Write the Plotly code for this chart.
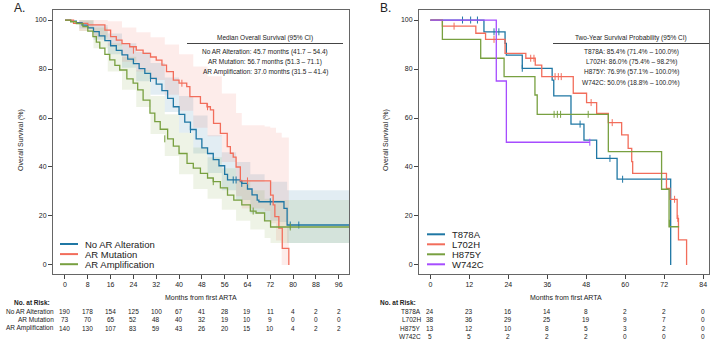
import plotly.graph_objects as go

# ---------------- Panel A data ----------------
noalt_t = [0, 2, 4, 6, 8, 10, 12, 14, 16, 18, 20, 22, 24, 26, 28, 30, 32, 34, 36, 38, 40, 42, 44, 46, 48, 50, 52, 54, 56, 57, 61.5, 62, 64, 65.6, 67.4, 68, 74.4, 76.8, 77.9, 100]
noalt_s = [100, 99.5, 98.9, 97.9, 96.8, 95.3, 93.5, 91.6, 89.5, 87.6, 85.8, 84, 82.2, 80.2, 78.2, 76.2, 73.8, 71.2, 68, 64.6, 61.5, 58.3, 55.3, 51.5, 47.8, 45.5, 43, 40.5, 37, 34.7, 34, 33.3, 31, 28.6, 26.5, 25.8, 25.8, 23.1, 16.3, 16.3]
noalt_cens_t = [30, 44, 59, 60, 62, 72, 79, 82]
noalt_cens_s = [76.2, 55.3, 34.7, 34.7, 33.3, 25.8, 16.3, 16.3]

mut_t = [0, 3, 8, 14, 16, 18, 20, 22.7, 25, 27.4, 30, 32, 34, 35.6, 38, 40, 42.7, 43.8, 47.5, 49.8, 51, 52.1, 54.5, 56.9, 58, 59, 60, 61.5, 70.9, 72.1, 73, 73.6, 75, 76.2, 78.5]
mut_s = [100, 98.6, 98, 95.9, 93.2, 91.8, 90.4, 89.1, 87.7, 86.4, 84.9, 83.6, 81.6, 78.9, 75.5, 74.2, 72.8, 68.7, 66, 64.6, 63.3, 57.8, 53.7, 48.3, 45.6, 44, 40, 34.3, 34.3, 28.5, 24.5, 19.7, 15, 6.8, 0]
mut_cens_t = [24, 41, 50, 64]
mut_cens_s = [87.7, 74.2, 64.6, 34.3]

amp_t = [0, 2, 4, 6.3, 8, 9.8, 11, 12.2, 14, 15.7, 17.5, 19.2, 21.7, 23.9, 25.5, 27.4, 29.8, 31.5, 33.4, 36, 38, 40, 42.8, 45, 47.5, 50, 52, 54.5, 57, 59.2, 62, 65, 67, 70, 72.1, 100]
amp_s = [100, 99.3, 98.5, 97.3, 95.5, 93.2, 91, 88.5, 86, 83.7, 81.5, 79.6, 76, 74.2, 71.5, 67.3, 62, 58.5, 55.4, 51.5, 48.5, 45.5, 41.5, 39.5, 37.4, 35.5, 34, 31.5, 28.5, 26.5, 24.5, 22, 21.2, 18, 15.5, 15.5]
amp_cens_t = [35, 52, 66, 79]
amp_cens_s = [51.5, 34, 22, 15.5]

# confidence bands
noalt_band_t = [0, 5, 10, 15, 20, 25, 30, 35, 40, 45, 50, 55, 60, 65, 70, 75, 77.9, 100]
noalt_lo = [100, 96.5, 92, 86, 80.5, 75, 69.5, 62.5, 54, 45.5, 37.5, 30.5, 26.5, 21, 18, 17.5, 9, 9]
noalt_hi = [100, 99.8, 98, 94.5, 90.5, 87, 82.5, 76.5, 69, 61, 53, 46, 42, 37, 34, 34, 30.5, 30.5]

mut_band_t = [0, 5, 10, 15, 20, 25, 30, 35, 40, 45, 50, 55, 60, 62, 70, 72, 74, 76, 78.5]
mut_lo = [100, 95.5, 93, 89.5, 83, 79, 75.5, 69.5, 63, 56, 52.5, 42, 28, 23, 22, 17, 10, 0, 0]
mut_hi = [100, 100, 100, 99.5, 97, 95, 93, 90, 86, 81, 77, 70, 62, 57, 56.5, 56, 54, 52, 52]

amp_band_t = [0, 5, 10, 15, 20, 25, 30, 35, 40, 45, 50, 55, 60, 65, 70, 72.1, 100]
amp_lo = [100, 95.5, 88.5, 79, 71.5, 64.5, 53.5, 44.5, 37, 31, 27, 22.5, 18, 14.5, 11, 9, 9]
amp_hi = [100, 100, 97, 90.5, 85, 79.5, 69, 61.5, 54, 48, 44, 39.5, 34.5, 30.5, 27, 26.5, 26.5]

a_ticks = [0, 8, 16, 24, 32, 40, 48, 56, 64, 72, 80, 88, 96]
a_groups = ["No AR Alteration", "AR Mutation", "AR Amplification"]
a_risk = [
    [190, 178, 154, 125, 100, 67, 41, 28, 19, 11, 4, 2, 2],
    [73, 70, 65, 52, 48, 40, 32, 19, 10, 9, 0, 0, 0],
    [140, 130, 107, 83, 59, 43, 26, 20, 15, 10, 4, 2, 2],
]
a_box_title = "Median Overall Survival (95% CI)"
a_box_lines = [
    "No AR Alteration: 45.7 months (41.7 \u2013 54.4)",
    "AR Mutation: 56.7 months (51.3 \u2013 71.1)",
    "AR Amplification: 37.0 months (31.5 \u2013 41.4)",
]

# ---------------- Panel B data ----------------
t878_t = [0, 16.5, 23, 23.4, 28.3, 37.5, 38, 43.3, 47.3, 51.2, 57.5, 74, 74]
t878_s = [100, 95.2, 90.5, 85.7, 80.3, 75.5, 69, 57.5, 51, 43.5, 35, 35, 0]
t878_cens_t = [9.9, 12.4, 14.5, 19.6, 21.1, 28.3, 46.1, 55.3, 59.2]
t878_cens_s = [100, 100, 100, 95.2, 95.2, 80.3, 57.5, 43.5, 35]

l702_t = [0, 3.7, 14, 17, 23, 29.4, 32.3, 34.3, 44, 48.1, 51.2, 54.8, 58.9, 60.9, 62, 62.3, 72.7, 73.8, 76, 76.4, 78.9]
l702_s = [100, 97.5, 94.6, 92.1, 86.4, 84.4, 81.6, 76.9, 70.1, 66.3, 61.9, 58.1, 53.1, 47.6, 42.2, 37.4, 31.3, 26.8, 19, 10.2, 0]
l702_cens_t = [7.3, 19.6, 30.9, 31.9, 38.4, 39.4, 40.3, 49.5, 56, 75.2, 76.2]
l702_cens_s = [97.5, 92.1, 84.4, 84.4, 76.9, 76.9, 76.9, 66.3, 58.1, 26.8, 19]

h875_t = [0, 3.7, 15.5, 22.7, 32.2, 32.9, 54.8, 71.2, 73.5, 76.6]
h875_s = [100, 92.1, 84.4, 76.9, 69.4, 61.5, 46.3, 30.9, 15.6, 15.6]
h875_cens_t = [38.1, 39.1, 40.1, 48.6, 73.6]
h875_cens_s = [61.5, 61.5, 61.5, 61.5, 17]

w742_t = [0, 20.3, 23.4, 49.1]
w742_s = [100, 75.1, 50.1, 50.1]
w742_cens_t = [49.1]
w742_cens_s = [50.1]

b_ticks = [0, 12, 24, 36, 48, 60, 72, 84]
b_groups = ["T878A", "L702H", "H875Y", "W742C"]
b_risk = [
    [24, 23, 16, 14, 8, 2, 2, 0],
    [38, 36, 29, 25, 19, 9, 7, 0],
    [13, 12, 10, 8, 5, 3, 2, 0],
    [5, 5, 2, 2, 2, 0, 0, 0],
]
b_box_title = "Two-Year Survival Probability (95% CI)"
b_box_lines = [
    "T878A: 85.4% (71.4% \u2013 100.0%)",
    "L702H: 86.0% (75.4% \u2013 98.2%)",
    "H875Y: 76.9% (57.1% \u2013 100.0%)",
    "W742C: 50.0% (18.8% \u2013 100.0%)",
]

y_ticks = [0, 20, 40, 60, 80, 100]

# ---------------- styling ----------------
BLUE = "#1f77a4"
RED = "#f26d5b"
GREEN = "#78a040"
PURPLE = "#a64dff"
FONT = "Liberation Sans, Arial, sans-serif"
TXT = "#222222"
W, H = 720, 346


def px(x):
    return x / W


def py(y):
    return 1 - y / H


fig = go.Figure()


def band(t, lo, hi, color, xa, ya):
    fig.add_trace(go.Scatter(x=t, y=lo, mode="lines", line=dict(width=0, shape="hv"),
                             hoverinfo="skip", showlegend=False, xaxis=xa, yaxis=ya))
    fig.add_trace(go.Scatter(x=t, y=hi, mode="lines", line=dict(width=0, shape="hv"),
                             fill="tonexty", fillcolor=color, hoverinfo="skip",
                             showlegend=False, xaxis=xa, yaxis=ya))


def curve(t, s, ct, cs, color, xa, ya):
    fig.add_trace(go.Scatter(x=t, y=s, mode="lines", line=dict(color=color, width=1.3, shape="hv"),
                             showlegend=False, xaxis=xa, yaxis=ya))
    fig.add_trace(go.Scatter(x=ct, y=cs, mode="markers",
                             marker=dict(symbol="line-ns", size=5, line=dict(color=color, width=1)),
                             showlegend=False, xaxis=xa, yaxis=ya))


band(noalt_band_t, noalt_lo, noalt_hi, "rgba(31,119,164,0.13)", "x", "y")
band(mut_band_t, mut_lo, mut_hi, "rgba(242,109,91,0.13)", "x", "y")
band(amp_band_t, amp_lo, amp_hi, "rgba(120,160,64,0.13)", "x", "y")
curve(noalt_t, noalt_s, noalt_cens_t, noalt_cens_s, BLUE, "x", "y")
curve(mut_t, mut_s, mut_cens_t, mut_cens_s, RED, "x", "y")
curve(amp_t, amp_s, amp_cens_t, amp_cens_s, GREEN, "x", "y")

curve(t878_t, t878_s, t878_cens_t, t878_cens_s, BLUE, "x2", "y2")
curve(l702_t, l702_s, l702_cens_t, l702_cens_s, RED, "x2", "y2")
curve(h875_t, h875_s, h875_cens_t, h875_cens_s, GREEN, "x2", "y2")
curve(w742_t, w742_s, w742_cens_t, w742_cens_s, PURPLE, "x2", "y2")

axis_common = dict(showgrid=False, zeroline=False, showline=True, mirror=True,
                   linecolor="#666666", linewidth=1, ticks="outside", ticklen=4,
                   tickcolor="#444444", tickfont=dict(size=7, color=TXT, family=FONT))

fig.update_layout(
    width=W, height=H, margin=dict(l=0, r=0, t=0, b=0),
    paper_bgcolor="white", plot_bgcolor="white", showlegend=False,
    font=dict(family=FONT, color=TXT),
    xaxis=dict(domain=[px(53), px(349)], range=[-4.2, 99.6], tickvals=a_ticks,
               anchor="y", **axis_common),
    yaxis=dict(domain=[py(274), py(10)], range=[-3.7, 104.1], tickvals=y_ticks,
               anchor="x", **axis_common),
    xaxis2=dict(domain=[px(419), px(709)], range=[-3.5, 85.8], tickvals=b_ticks,
                anchor="y2", **axis_common),
    yaxis2=dict(domain=[py(274), py(10)], range=[-3.7, 104.1], tickvals=y_ticks,
                anchor="x2", **axis_common),
)

ann = []
shapes = []


def text(x, y, s, size=7, xanchor="center", xref="paper", bold=False, angle=0, color=TXT):
    ann.append(dict(x=x, y=y, xref=xref, yref="paper", text=("<b>%s</b>" % s) if bold else s,
                    showarrow=False, xanchor=xanchor, yanchor="middle", textangle=angle,
                    font=dict(size=size, color=color, family=FONT)))


# panel labels
text(px(12), py(8), "A.", size=12, xanchor="left")
text(px(378), py(8), "B.", size=12, xanchor="left")
# y titles
text(px(21), py(140), "Overall Survival (%)", size=7, angle=-90)
text(px(386), py(140), "Overall Survival (%)", size=7, angle=-90)
# x titles
text(px(201), py(297), "Months from first ARTA", size=7)
text(px(566), py(297), "Months from first ARTA", size=7)

# summary boxes
text(px(265), py(38), a_box_title, size=6.5)
shapes.append(dict(type="line", xref="paper", yref="paper", x0=px(187), x1=px(343),
                   y0=py(43.5), y1=py(43.5), line=dict(color="#444444", width=1)))
for i, s in enumerate(a_box_lines):
    text(px(265), py(51.7 + 10.4 * i), s, size=6.5)

text(px(631), py(38), b_box_title, size=6.5)
shapes.append(dict(type="line", xref="paper", yref="paper", x0=px(553), x1=px(709),
                   y0=py(43.5), y1=py(43.5), line=dict(color="#444444", width=1)))
for i, s in enumerate(b_box_lines):
    text(px(631), py(51.7 + 10.3 * i), s, size=6.5)

# legends
a_colors = [BLUE, RED, GREEN]
for i, g in enumerate(a_groups):
    yy = py(244 + 10.1 * i)
    shapes.append(dict(type="line", xref="paper", yref="paper", x0=px(60), x1=px(78),
                       y0=yy, y1=yy, line=dict(color=a_colors[i], width=2)))
    text(px(83), yy, g, size=9.5, xanchor="left")
b_colors = [BLUE, RED, GREEN, PURPLE]
for i, g in enumerate(b_groups):
    yy = py(234.3 + 10 * i)
    shapes.append(dict(type="line", xref="paper", yref="paper", x0=px(427), x1=px(445),
                       y0=yy, y1=yy, line=dict(color=b_colors[i], width=2)))
    text(px(450), yy, g, size=9.5, xanchor="left")

# at-risk tables
text(px(32), py(302.5), "No. at Risk:", size=6.5, bold=True)
for i, g in enumerate(a_groups):
    yy = py(311.3 + 8.5 * i)
    text(px(56), yy, g, size=6.5, xanchor="right")
    for t, n in zip(a_ticks, a_risk[i]):
        text(t, yy, str(n), size=6.5, xref="x")
text(px(398), py(302.5), "No. at Risk:", size=6.5, bold=True)
for i, g in enumerate(b_groups):
    yy = py(311 + 8.6 * i)
    text(px(423), yy, g, size=6.5, xanchor="right")
    for t, n in zip(b_ticks, b_risk[i]):
        text(t, yy, str(n), size=6.5, xref="x2")

fig.update_layout(annotations=ann, shapes=shapes)
fig.write_html("out.html", config={"displayModeBar": False},
               post_script="document.body.style.margin='0';document.body.style.overflow='hidden';")
